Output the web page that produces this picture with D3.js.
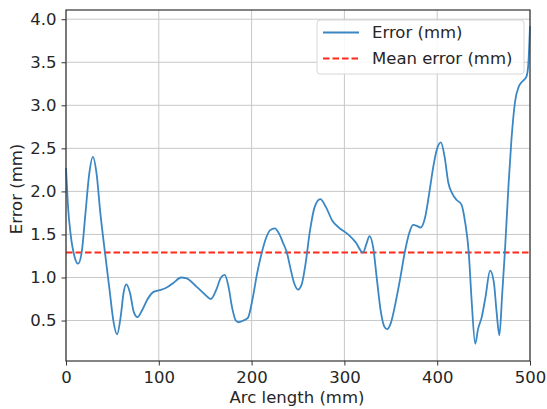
<!DOCTYPE html>
<html>
<head>
<meta charset="utf-8">
<script src="https://cdn.jsdelivr.net/npm/d3@7"></script>
<style>
body { margin: 0; background: #fff; }
text { font-family: "DejaVu Sans", sans-serif; fill: #262626; }
</style>
</head>
<body>
<svg id="plotarea"></svg>
<script>
var arcLength = [0, 2, 5, 9, 13, 17, 21, 25, 29, 33, 37, 42, 47, 51, 55, 59, 62, 65, 69, 73,
    77, 82, 88, 94, 100, 108, 116, 124, 130, 140, 150, 156, 162, 167, 171, 175, 179, 183, 186, 191,
    196, 201, 206, 211, 216, 220, 225, 230, 234, 238, 242, 246, 250, 254, 258, 263, 268, 274, 280, 287,
    294, 304, 312, 320, 324, 327, 331, 335, 339, 343, 346, 350, 355, 360, 365, 370, 374, 378, 382, 387,
    391, 396, 400, 404, 408, 412, 416, 421, 426, 430, 434, 437, 441, 444, 448, 452, 457, 461, 464, 467,
    470, 473, 477, 480, 484, 488, 492, 496, 498, 500];
var errorMm = [2.27, 1.85, 1.5, 1.25, 1.16, 1.3, 1.75, 2.2, 2.40, 2.2, 1.75, 1.29, 0.85, 0.5, 0.34, 0.55, 0.82, 0.92, 0.82, 0.6,
    0.54, 0.62, 0.75, 0.83, 0.85, 0.88, 0.94, 1.0, 0.99, 0.9, 0.8, 0.75, 0.86, 1.0, 1.03, 0.9, 0.65, 0.5, 0.48, 0.5,
    0.53, 0.75, 1.05, 1.29, 1.47, 1.55, 1.57, 1.5, 1.4, 1.29, 1.1, 0.93, 0.86, 0.92, 1.15, 1.55, 1.82, 1.91, 1.82, 1.66,
    1.58, 1.50, 1.41, 1.29, 1.40, 1.48, 1.35, 0.98, 0.62, 0.43, 0.40, 0.47, 0.7, 0.98, 1.29, 1.52, 1.61, 1.6, 1.58, 1.7,
    1.95, 2.3, 2.5, 2.57, 2.4, 2.1, 1.98, 1.9, 1.85, 1.65, 1.29, 0.75, 0.23, 0.4, 0.54, 0.77, 1.08, 0.95, 0.6, 0.33,
    0.8, 1.31, 2.1, 2.6, 3.05, 3.22, 3.28, 3.33, 3.45, 3.92];
var meanError = 1.29;
var xTicks = [0, 100, 200, 300, 400, 500];
var yTicks = [0.5, 1.0, 1.5, 2.0, 2.5, 3.0, 3.5, 4.0];
var legendLabels = ["Error (mm)", "Mean error (mm)"];

var width = 547, height = 409;
var margin = {left: 66, right: 530, top: 10, bottom: 361};
var fs = 16.5;

var svg = d3.select("#plotarea")
    .attr("width", width)
    .attr("height", height);

var x = d3.scaleLinear().domain([0, 500]).range([margin.left, margin.right]);
var y = d3.scaleLinear().domain([0.03, 4.107]).range([margin.bottom, margin.top]);

// grid
svg.append("g").selectAll("line")
    .data(xTicks)
    .enter().append("line")
    .attr("x1", function(d) { return x(d); })
    .attr("x2", function(d) { return x(d); })
    .attr("y1", margin.top).attr("y2", margin.bottom)
    .attr("stroke", "#c8c8c8").attr("stroke-width", 1);
svg.append("g").selectAll("line")
    .data(yTicks)
    .enter().append("line")
    .attr("y1", function(d) { return y(d); })
    .attr("y2", function(d) { return y(d); })
    .attr("x1", margin.left).attr("x2", margin.right)
    .attr("stroke", "#c8c8c8").attr("stroke-width", 1);

// mean line
svg.append("line")
    .attr("x1", x(0)).attr("x2", x(500))
    .attr("y1", y(meanError)).attr("y2", y(meanError))
    .attr("stroke", "#ff2a1a")
    .attr("stroke-width", 1.8)
    .attr("stroke-dasharray", "6.5,3");

// error curve
var pts = arcLength.map(function(d, i) { return [d, errorMm[i]]; });
var line = d3.line()
    .x(function(d) { return x(d[0]); })
    .y(function(d) { return y(d[1]); })
    .curve(d3.curveMonotoneX);
svg.append("path")
    .datum(pts)
    .attr("d", line)
    .attr("fill", "none")
    .attr("stroke", "#3a87c4")
    .attr("stroke-width", 1.8);

// axes
var xAxis = svg.append("g")
    .attr("transform", "translate(0," + margin.bottom + ")")
    .call(d3.axisBottom(x).tickValues(xTicks).tickSize(4.5).tickPadding(6).tickFormat(d3.format("d")));
var yAxis = svg.append("g")
    .attr("transform", "translate(" + margin.left + ",0)")
    .call(d3.axisLeft(y).tickValues(yTicks).tickSize(4.5).tickPadding(5).tickFormat(d3.format(".1f")));
[xAxis, yAxis].forEach(function(a) {
    a.select(".domain").remove();
    a.selectAll("line").attr("stroke", "#333");
    a.selectAll("text").attr("font-size", fs).attr("font-family", "DejaVu Sans").attr("fill", "#262626");
});

// frame
svg.append("rect")
    .attr("x", margin.left).attr("y", margin.top)
    .attr("width", margin.right - margin.left).attr("height", margin.bottom - margin.top)
    .attr("fill", "none").attr("stroke", "#333").attr("stroke-width", 1.2);

// labels
svg.append("text")
    .attr("x", 297).attr("y", 403)
    .attr("text-anchor", "middle").attr("font-size", fs)
    .text("Arc length (mm)");
svg.append("text")
    .attr("transform", "translate(22,189) rotate(-90)")
    .attr("text-anchor", "middle").attr("font-size", fs)
    .text("Error (mm)");

// legend
var lg = svg.append("g");
lg.append("rect")
    .attr("x", 317).attr("y", 20).attr("width", 207).attr("height", 54)
    .attr("rx", 3).attr("fill", "#fff").attr("fill-opacity", 0.85)
    .attr("stroke", "#d6d6d6");
var rows = lg.selectAll(".row")
    .data(legendLabels)
    .enter().append("g")
    .attr("class", "row")
    .attr("transform", function(d, i) { return "translate(0," + (32.5 + i * 26) + ")"; });
rows.append("line")
    .attr("x1", 323).attr("x2", 359).attr("y1", 0).attr("y2", 0)
    .attr("stroke", function(d, i) { return i == 0 ? "#3a87c4" : "#ff2a1a"; })
    .attr("stroke-width", 1.8)
    .attr("stroke-dasharray", function(d, i) { return i == 0 ? null : "6.5,3"; });
rows.append("text")
    .attr("x", 372).attr("y", 0).attr("dy", "0.35em")
    .attr("font-size", fs)
    .text(function(d) { return d; });
</script>
</body>
</html>
